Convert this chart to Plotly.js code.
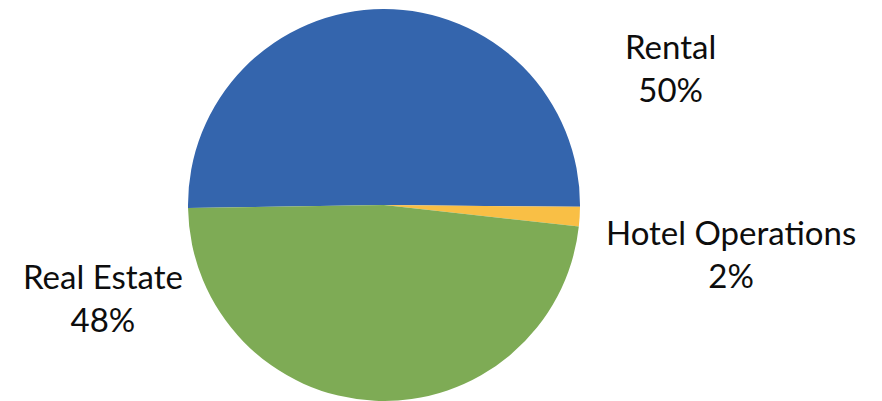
<!DOCTYPE html>
<html>
<head>
<meta charset="utf-8">
<script src="https://cdn.plot.ly/plotly-3.0.1.min.js"></script>
<style>html,body{margin:0;padding:0;background:#fff}#chart{width:882px;height:401px}</style>
</head>
<body>
<div id="chart"></div>
<script>
const labels = ["Rental", "Hotel Operations", "Real Estate"];
const values = [50.4, 1.6, 48.0];
const colors = ["#3465AD", "#F9BF45", "#7EAB55"];
const labelPos = [[670, 67], [731, 253], [103, 297]];

const total = values.reduce((a, b) => a + b, 0);
const W = 882, H = 401;

const annotations = labels.map((l, i) => ({
  text: l + "<br>" + Math.round(values[i] / total * 100) + "%",
  xref: "paper", yref: "paper",
  x: labelPos[i][0] / W, y: 1 - labelPos[i][1] / H,
  xanchor: "center", yanchor: "middle",
  showarrow: false, align: "center",
  font: {family: "Lato, 'Open Sans', sans-serif", size: 33, color: "#0d0d0d"}
}));

const cx = 384, cy = 205, r = 196;
Plotly.newPlot("chart", [{
  type: "pie",
  labels: labels,
  values: values,
  sort: false,
  direction: "clockwise",
  rotation: -90.9,
  marker: {colors: colors, line: {width: 0}},
  textinfo: "none",
  hoverinfo: "label+percent",
  domain: {x: [(cx - r) / W, (cx + r) / W], y: [(H - cy - r) / H, (H - cy + r) / H]}
}], {
  width: W, height: H,
  margin: {l: 0, r: 0, t: 0, b: 0},
  showlegend: false,
  paper_bgcolor: "#fff",
  annotations: annotations
}, {staticPlot: true});
</script>
</body>
</html>
